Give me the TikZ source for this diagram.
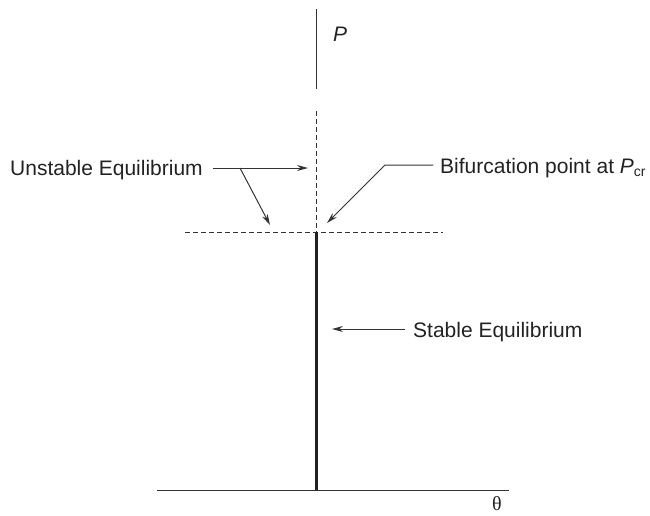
\documentclass[tikz,border=0pt]{standalone}
\usepackage{fontspec}
\setmainfont{Liberation Sans}
\newfontfamily\serifth{Liberation Serif}
\usetikzlibrary{arrows.meta}
\definecolor{ink}{HTML}{222222}
\definecolor{linegray}{HTML}{333333}
\begin{document}
\begin{tikzpicture}[x=1pt,y=-1pt,
  thinline/.style={draw=linegray,line width=1pt},
  dashline/.style={draw=linegray,line width=1pt,dash pattern=on 4.5pt off 3.5pt},
  thickline/.style={draw=ink,line width=2.5pt},
  arr/.style={thinline,-{Stealth[length=11pt,width=6pt]}},
  lbl/.style={inner sep=0pt,text=ink,font=\fontsize{21}{24}\selectfont}]
\useasboundingbox (0,0) rectangle (650,515);
% axis points
\coordinate (vtop) at (316.5,9);
\coordinate (vsolidend) at (316.5,89);
\coordinate (vdashstart) at (316.5,111);
\coordinate (bif) at (316.5,232);
\coordinate (origin) at (316.5,490);
\coordinate (hleft) at (157,490);
\coordinate (hright) at (509,490);
\coordinate (dl) at (185,232);
\coordinate (dr) at (443,232);
% lines
\draw[thinline] (vtop) -- (vsolidend);
\draw[dashline] (vdashstart) -- (bif);
\draw[dashline] (dl) -- (dr);
\draw[thickline] (bif) -- (origin);
\draw[thinline] (hleft) -- (hright);
% labels
\node[lbl,anchor=base west] (P) at (333,41) {\itshape P};
\node[text=ink,inner sep=0pt,font=\serifth\fontsize{20}{22}\selectfont] (theta) at (497,504) {θ};
\node[lbl,anchor=base west] (unst) at (10,175) {Unstable Equilibrium};
\node[lbl,anchor=base west] (bift) at (440,173) {Bifurcation point at \textit{P}\raisebox{-0.3ex}{\fontsize{14}{15}\selectfont cr}};
\node[lbl,anchor=base west] (stab) at (413,337) {Stable Equilibrium};
% connectors
\coordinate (ustart) at ([xshift=10pt]unst.east |- 0,168);
\coordinate (ubranch) at (240,168);
\coordinate (utip1) at (308,168);
\coordinate (utip2) at (270,225);
\draw[arr] (ustart) -- (utip1);
\draw[arr] (ubranch) -- (utip2);
\coordinate (bstart) at ([xshift=-7pt]bift.west |- 0,165);
\coordinate (bknee) at (385,165);
\coordinate (btip) at (327,223);
\draw[arr] (bstart) -- (bknee) -- (btip);
\coordinate (sstart) at ([xshift=-8pt]stab.west |- 0,329);
\coordinate (stip) at (332,329);
\draw[arr] (sstart) -- (stip);
\end{tikzpicture}
\end{document}
